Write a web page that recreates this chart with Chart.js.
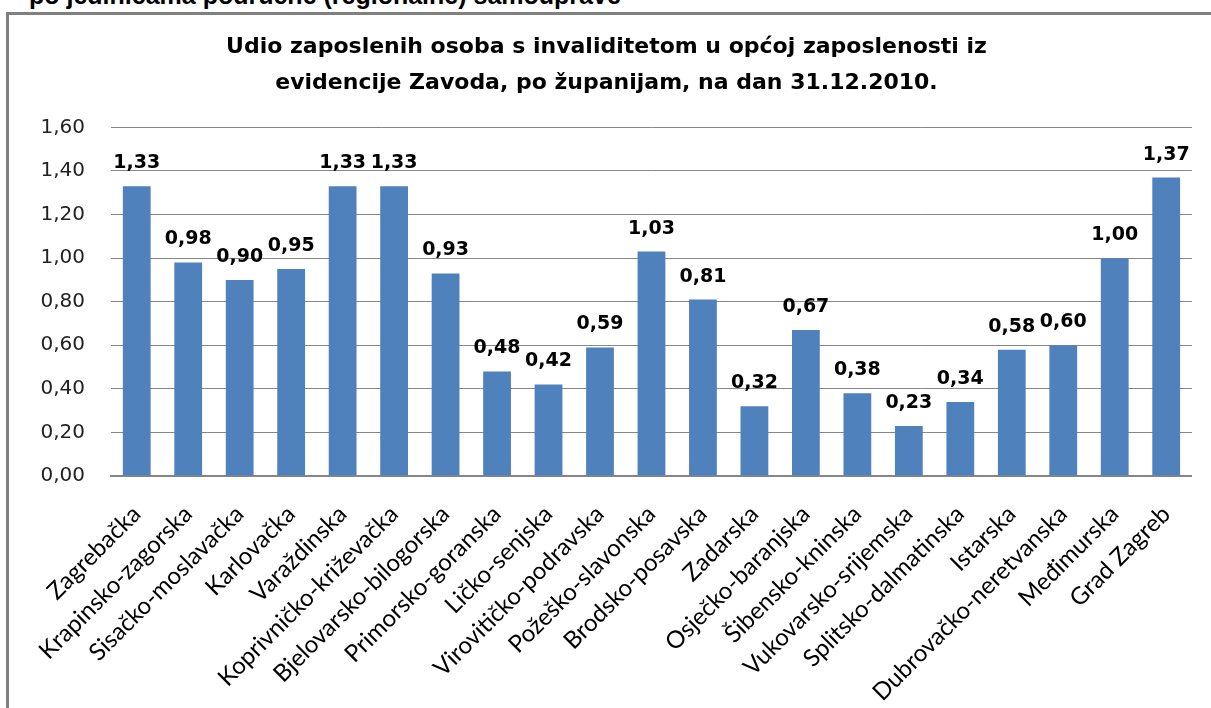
<!DOCTYPE html>
<html>
<head>
<meta charset="utf-8">
<script src="https://cdn.jsdelivr.net/npm/chart.js@4"></script>
<style>
  html, body { margin: 0; padding: 0; background: #fff; overflow: hidden; }
  #wrap { position: relative; width: 1211px; height: 708px; }
  #cut { position: absolute; left: 29px; top: -17px; font: bold 25px 'Liberation Sans', Arial, sans-serif; line-height: 25px; color: #000; white-space: nowrap; }
  #frame { position: absolute; left: 6px; top: 12px; width: 1300px; height: 800px; border-left: 3px solid #808080; border-top: 3px solid #808080; }
  #c { position: absolute; left: 0; top: 0; }
</style>
</head>
<body>
<div id="wrap">
  <div id="cut">po jedinicama područne (regionalne) samouprave</div>
  <div id="frame"></div>
  <canvas id="c" width="1211" height="708"></canvas>
</div>
<script>
/* Udio zaposlenih osoba s invaliditetom, po županijama (31.12.2010.) */

const counties = [
  'Zagrebačka', 'Krapinsko-zagorska', 'Sisačko-moslavačka', 'Karlovačka',
  'Varaždinska', 'Koprivničko-križevačka', 'Bjelovarsko-bilogorska',
  'Primorsko-goranska', 'Ličko-senjska', 'Virovitičko-podravska',
  'Požeško-slavonska', 'Brodsko-posavska', 'Zadarska', 'Osječko-baranjska',
  'Šibensko-kninska', 'Vukovarsko-srijemska', 'Splitsko-dalmatinska',
  'Istarska', 'Dubrovačko-neretvanska', 'Međimurska', 'Grad Zagreb'
];
const shares = [
  1.33, 0.98, 0.90, 0.95, 1.33, 1.33, 0.93, 0.48, 0.42, 0.59,
  1.03, 0.81, 0.32, 0.67, 0.38, 0.23, 0.34, 0.58, 0.60, 1.00, 1.37
];
const titleLines = [
  'Udio zaposlenih osoba s invaliditetom u općoj zaposlenosti iz',
  'evidencije Zavoda, po županijam, na dan 31.12.2010.'
];

const BLUE = '#4f81bd';
const GRID = '#868686';
const comma = (v) => Number(v).toFixed(2).replace('.', ',');

// values above the bars, like Excel's data labels
const barLabels = {
  id: 'barLabels',
  afterDatasetsDraw(chart) {
    const ctx = chart.ctx;
    const meta = chart.getDatasetMeta(0);
    ctx.save();
    ctx.font = 'bold 19px "DejaVu Sans"';
    ctx.fillStyle = '#000';
    ctx.textAlign = 'center';
    ctx.textBaseline = 'alphabetic';
    meta.data.forEach((bar, i) => {
      ctx.fillText(comma(shares[i]), bar.x, bar.y - 18);
    });
    ctx.restore();
  }
};

new Chart(document.getElementById('c'), {
  type: 'bar',
  data: {
    labels: counties,
    datasets: [{
      data: shares,
      backgroundColor: BLUE,
      barPercentage: 0.9,
      categoryPercentage: 0.6,
    }],
  },
  options: {
    responsive: false,
    animation: false,
    layout: { padding: { left: 20, right: 18, top: 0, bottom: 0 } },
    plugins: {
      legend: { display: false },
      tooltip: { enabled: false },
      title: {
        display: true,
        text: titleLines,
        color: '#000',
        font: { family: 'DejaVu Sans', size: 22, weight: 'bold', lineHeight: 1.6 },
        padding: { top: 30, bottom: 27 },
      },
    },
    scales: {
      x: {
        grid: { display: false, drawTicks: false },
        border: { display: true, color: GRID, width: 2 },
        ticks: {
          color: '#000',
          font: { family: 'Lato', size: 24 },
          minRotation: 45,
          maxRotation: 45,
          autoSkip: false,
          padding: 24,
        },
        afterFit: (s) => { s.height = 232; },
      },
      y: {
        min: 0,
        max: 1.6,
        grid: { color: GRID, lineWidth: 1, drawTicks: false },
        border: { display: false },
        ticks: {
          stepSize: 0.2,
          color: '#222',
          font: { family: 'DejaVu Sans', size: 20 },
          padding: 26,
          callback: (v) => comma(v),
        },
        afterFit: (s) => { s.width = 91; },
      },
    },
  },
  plugins: [barLabels],
});
</script>
</body>
</html>
